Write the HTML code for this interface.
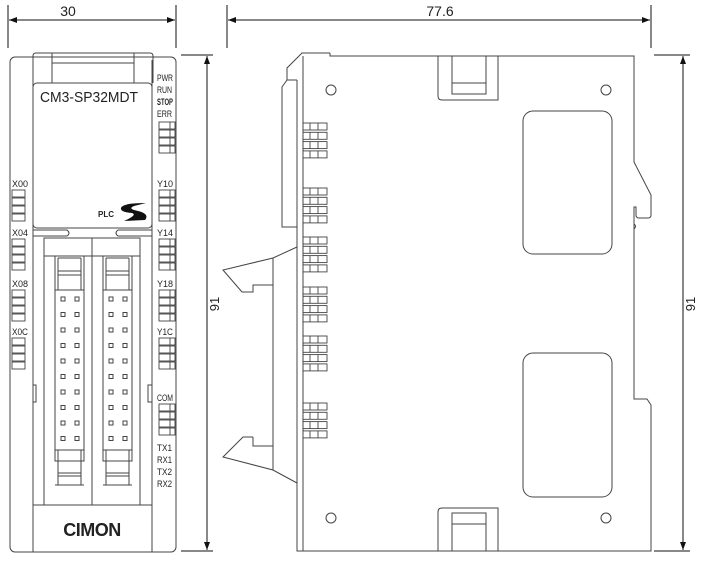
<!DOCTYPE html>
<html><head><meta charset="utf-8"><style>
html,body{margin:0;padding:0;background:#fff;}
svg{display:block;}
text{font-family:"Liberation Sans",sans-serif;fill:#222;}
</style></head><body>
<svg width="707" height="561" viewBox="0 0 707 561" xmlns="http://www.w3.org/2000/svg">
<defs>
<marker id="ar" markerWidth="8" markerHeight="6" refX="8" refY="3" orient="auto-start-reverse" markerUnits="userSpaceOnUse"><path d="M0,0L8,3L0,6z" fill="#111"/></marker>
<g id="ledL"><rect x="12" y="0" width="13" height="7"/><rect x="12" y="8" width="13" height="7"/><rect x="12" y="16" width="13" height="7"/><rect x="12" y="24" width="13" height="7"/></g>
<g id="ledR"><rect x="159" y="0" width="16" height="7"/><rect x="159" y="8" width="16" height="7"/><rect x="159" y="16" width="16" height="7"/><rect x="159" y="24" width="16" height="7"/><path d="M170 0V7M170 8V15M170 16V23M170 24V31"/></g>
<g id="rowS"><rect x="303" y="0" width="24" height="7"/><path d="M310 0V7M318 0V7"/></g>
<g id="ledS"><use href="#rowS"/><use href="#rowS" y="9.3"/><use href="#rowS" y="18.6"/><use href="#rowS" y="27.9"/></g>
<g id="pins"><rect x="-2" y="-2" width="4" height="4"/><rect x="12" y="-2" width="4" height="4"/></g>
<g id="conn">
<rect x="44" y="238" width="48" height="267"/>
<path d="M44 256H92"/>
<rect x="55" y="256" width="29" height="205"/>
<path d="M58 258V290M81 258V290M55 290H84M58 258H81M58 271H81M58 275H81"/>
<path d="M55 450H84M58 450V485M81 450V485M58 473H81M58 476H81M55 485H84"/>
<use href="#pins" x="63" y="299"/><use href="#pins" x="63" y="314.5"/><use href="#pins" x="63" y="330"/><use href="#pins" x="63" y="345.5"/><use href="#pins" x="63" y="361"/><use href="#pins" x="63" y="376.5"/><use href="#pins" x="63" y="392"/><use href="#pins" x="63" y="407.5"/><use href="#pins" x="63" y="423"/><use href="#pins" x="63" y="438.5"/>
</g>
</defs>

<g stroke="#111" stroke-width="1" fill="none">
<path d="M8 5V48M176 5V48M227 5V48M651 5V48"/>
<line x1="9" y1="20" x2="175" y2="20" marker-start="url(#ar)" marker-end="url(#ar)"/>
<line x1="228" y1="20" x2="650" y2="20" marker-start="url(#ar)" marker-end="url(#ar)"/>
<path d="M181 55H213M181 551H213M654 55H690M654 551H690"/>
<line x1="207" y1="56" x2="207" y2="550" marker-start="url(#ar)" marker-end="url(#ar)"/>
<line x1="683" y1="56" x2="683" y2="550" marker-start="url(#ar)" marker-end="url(#ar)"/>
</g>
<text x="68" y="16" font-size="14" text-anchor="middle">30</text>
<text x="440" y="16" font-size="14" text-anchor="middle">77.6</text>
<text transform="translate(219,304) rotate(-90)" font-size="13" text-anchor="middle">91</text>
<text transform="translate(695,304) rotate(-90)" font-size="13" text-anchor="middle">91</text>

<g stroke="#444" stroke-width="1" fill="none">
<rect x="10" y="57" width="166" height="495" rx="5"/>
<path d="M33 60V552M152 60V552"/>
<path d="M33 83V56Q33 53 36 53H150Q153 53 153 56V83M52 53V83M134 53V83M52 63H134"/>
<rect x="33" y="83" width="119" height="145" rx="4"/>
<path d="M33 230H67Q71 233 67 236H33M152 230H118Q114 233 118 236H152"/>
<path d="M33 385H36V402H33M152 385H148V402H152"/>
<path d="M33 505H152"/>
<use href="#conn"/>
<use href="#conn" x="48"/>
<g stroke-width="0.9">
<use href="#ledL" y="190"/><use href="#ledL" y="239"/><use href="#ledL" y="290"/><use href="#ledL" y="338"/>
<use href="#ledR" y="122"/><use href="#ledR" y="190"/><use href="#ledR" y="239"/><use href="#ledR" y="290"/><use href="#ledR" y="338"/><use href="#ledR" y="404"/>
</g>
</g>
<text x="40" y="102" font-size="15" textLength="98" lengthAdjust="spacingAndGlyphs">CM3-SP32MDT</text>
<text x="98" y="217" font-size="8" font-weight="bold">PLC</text>
<path d="M146 203Q122 203 121 208Q120 212 132 213Q138 215 124 221L145 220Q150 214 138 211Q127 209 134 206Z" fill="#111"/>
<text x="92" y="536" font-size="18" font-weight="bold" text-anchor="middle" letter-spacing="-0.5">CIMON</text>
<g font-size="9" transform="translate(0,0)">
<text x="12" y="187" textLength="16" lengthAdjust="spacingAndGlyphs">X00</text><text x="12" y="236" textLength="16" lengthAdjust="spacingAndGlyphs">X04</text><text x="12" y="287" textLength="16" lengthAdjust="spacingAndGlyphs">X08</text><text x="12" y="335" textLength="16" lengthAdjust="spacingAndGlyphs">X0C</text>
<text x="157" y="81" textLength="16" lengthAdjust="spacingAndGlyphs">PWR</text><text x="157" y="93" textLength="15" lengthAdjust="spacingAndGlyphs">RUN</text><text x="157" y="105" font-weight="bold" textLength="16" lengthAdjust="spacingAndGlyphs">STOP</text><text x="157" y="117" textLength="15" lengthAdjust="spacingAndGlyphs">ERR</text>
<text x="157" y="187" textLength="16" lengthAdjust="spacingAndGlyphs">Y10</text><text x="157" y="236" textLength="16" lengthAdjust="spacingAndGlyphs">Y14</text><text x="157" y="287" textLength="16" lengthAdjust="spacingAndGlyphs">Y18</text><text x="157" y="335" textLength="16" lengthAdjust="spacingAndGlyphs">Y1C</text>
<text x="157" y="401" textLength="16" lengthAdjust="spacingAndGlyphs">COM</text>
<text x="157" y="451" textLength="15" lengthAdjust="spacingAndGlyphs">TX1</text><text x="157" y="463" textLength="15" lengthAdjust="spacingAndGlyphs">RX1</text><text x="157" y="475" textLength="15" lengthAdjust="spacingAndGlyphs">TX2</text><text x="157" y="487" textLength="15" lengthAdjust="spacingAndGlyphs">RX2</text>
</g>

<g stroke="#444" stroke-width="1" fill="none">
<path d="M330 53V56H634V162L651 195V215Q651 218 648 218H639Q636 218 636 215V207H634V399H647L651 405V551H297V80"/>
<path d="M303 56V551"/>
<path d="M297 80H287V68L302 53H330"/>
<path d="M287 80L282 87V227H297"/>
<path d="M297 247L273 258L223 270L242 292H253V285H273M273 258V470M253 437H243L223 457L273 470L297 483M253 437V446H273"/>
<path d="M634 224Q637 226 634 229"/>
<path d="M438 56V96Q438 100 442 100H498V56M452 56V94H486V56M452 83H486"/>
<path d="M438 551V512Q438 508 442 508H498V551M452 551V513H486V551M452 524H486"/>
<circle cx="331" cy="90" r="5"/><circle cx="606" cy="90" r="5"/>
<circle cx="331" cy="518" r="5"/><circle cx="606" cy="518" r="5"/>
<rect x="523" y="111" width="89" height="143" rx="10"/>
<rect x="523" y="353" width="89" height="144" rx="10"/>
<g stroke-width="0.9">
<use href="#ledS" y="123"/><use href="#ledS" y="188"/><use href="#ledS" y="237"/><use href="#ledS" y="287"/><use href="#ledS" y="336"/><use href="#ledS" y="403"/>
</g>
</g>
</svg>
</body></html>
